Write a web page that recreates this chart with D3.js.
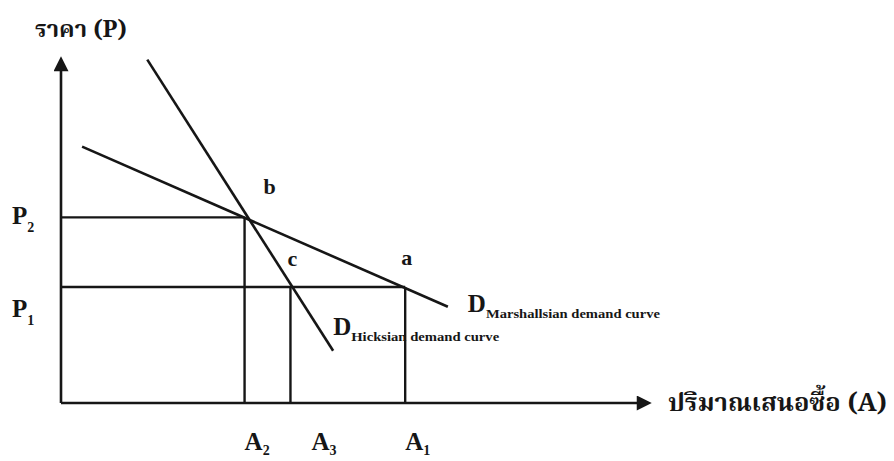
<!DOCTYPE html>
<html>
<head>
<meta charset="utf-8">
<script src="https://cdn.jsdelivr.net/npm/d3@7"></script>
<style>
  body { margin: 0; background: #fff; }
  svg { display: block; }
  .lbl { font-family: "Liberation Serif", "Times New Roman", serif; font-weight: bold; fill: #161616; }
  .th { font-family: "Noto Serif Thai", "Noto Sans Thai", "Loma", "Garuda", serif; font-weight: bold; fill: #161616; }
</style>
</head>
<body>
<div id="chart"></div>
<script>
// quantities on the x axis (A), with their subscripts
var qNames = ["2", "3", "1"];
var qValues = [4, 5, 7.5];
// prices on the y axis (P)
var pNames = ["2", "1"];
var pValues = [8, 5];
// demand curves, end points
var marshall = [[0.46, 11.05], [8.43, 4.15]];
var hicks = [[1.88, 14.8], [5.93, 2.25]];
// labelled points
var pointNames = ["b", "c", "a"];
var pointValues = [[4, 8], [5, 5], [7.5, 5]];

var width = 894, height = 461;

var x = d3.scaleLinear().domain([0, 12.9]).range([61, 653]);
var y = d3.scaleLinear().domain([0, 15]).range([403, 55]);

var svg = d3.select("#chart").append("svg")
    .attr("width", width)
    .attr("height", height);

// arrow head for the axes
svg.append("defs").append("marker")
    .attr("id", "arrow")
    .attr("viewBox", "0 0 10 10")
    .attr("refX", 5.5)
    .attr("refY", 5)
    .attr("markerUnits", "userSpaceOnUse")
    .attr("markerWidth", 18)
    .attr("markerHeight", 15)
    .attr("orient", "auto")
    .append("path")
    .attr("d", "M0,0 L10,5 L0,10 z")
    .attr("fill", "#161616");

var ink = "#161616";

// guide lines from the axes to the points
var guides = svg.append("g")
    .attr("stroke", ink)
    .attr("stroke-width", 2.4);

// P2 -> b, P1 -> a
guides.selectAll(".h").data(pValues).enter().append("line")
    .attr("x1", x(0))
    .attr("x2", function(d, i) { return x(i == 0 ? qValues[0] : qValues[2]); })
    .attr("y1", function(d) { return y(d); })
    .attr("y2", function(d) { return y(d); });

// vertical drops at A2, A3, A1
guides.selectAll(".v").data(qValues).enter().append("line")
    .attr("x1", function(d) { return x(d); })
    .attr("x2", function(d) { return x(d); })
    .attr("y1", function(d, i) { return y(i == 0 ? pValues[0] : pValues[1]); })
    .attr("y2", y(0));

// demand curves
var line = d3.line()
    .x(function(d) { return x(d[0]); })
    .y(function(d) { return y(d[1]); });

svg.selectAll(".curve").data([marshall, hicks]).enter().append("path")
    .attr("class", "curve")
    .attr("d", line)
    .attr("fill", "none")
    .attr("stroke", ink)
    .attr("stroke-width", 2.6);

// axes
svg.append("line")
    .attr("x1", x(0)).attr("y1", y(0))
    .attr("x2", x(0)).attr("y2", y(15) + 8)
    .attr("stroke", ink).attr("stroke-width", 2.6)
    .attr("marker-end", "url(#arrow)");

svg.append("line")
    .attr("x1", x(0)).attr("y1", y(0))
    .attr("x2", x(12.9) - 8).attr("y2", y(0))
    .attr("stroke", ink).attr("stroke-width", 2.6)
    .attr("marker-end", "url(#arrow)");

// axis titles
svg.append("text")
    .attr("class", "th")
    .attr("x", 35)
    .attr("y", 37)
    .attr("font-size", "23px")
    .attr("textLength", 92)
    .attr("lengthAdjust", "spacingAndGlyphs")
    .text("ราคา (P)");

svg.append("text")
    .attr("class", "th")
    .attr("x", x(12.9) + 15)
    .attr("y", y(0) + 8)
    .attr("font-size", "25px")
    .attr("textLength", 219)
    .attr("lengthAdjust", "spacingAndGlyphs")
    .text("ปริมาณเสนอซื้อ (A)");

// price labels P2, P1
var pl = svg.selectAll(".plabel").data(pValues).enter().append("text")
    .attr("class", "lbl")
    .attr("x", 12)
    .attr("y", function(d) { return y(d) + 7 + (d == 5 ? 23 : 0); })
    .attr("font-size", "25px");
pl.append("tspan").text("P");
pl.append("tspan")
    .attr("font-size", "14px")
    .attr("dy", 8)
    .text(function(d, i) { return pNames[i]; });

// quantity labels A2, A3, A1
var qOffset = [0, 21, 0];
var ql = svg.selectAll(".qlabel").data(qValues).enter().append("text")
    .attr("class", "lbl")
    .attr("x", function(d, i) { return x(d) + qOffset[i]; })
    .attr("y", 450)
    .attr("font-size", "25px");
ql.append("tspan").text("A");
ql.append("tspan")
    .attr("font-size", "14px")
    .attr("dy", 5)
    .text(function(d, i) { return qNames[i]; });

// point labels b, c, a
var ptOffset = [[19, -23], [-3, -21], [-4, -22]];
svg.selectAll(".pt").data(pointValues).enter().append("text")
    .attr("class", "lbl")
    .attr("x", function(d, i) { return x(d[0]) + ptOffset[i][0]; })
    .attr("y", function(d, i) { return y(d[1]) + ptOffset[i][1]; })
    .attr("font-size", "22px")
    .text(function(d, i) { return pointNames[i]; });

// curve names
var mEnd = marshall[1], hEnd = hicks[1];
var ml = svg.append("text")
    .attr("class", "lbl")
    .attr("x", x(mEnd[0]) + 20)
    .attr("y", y(mEnd[1]) + 5)
    .attr("font-size", "25px");
ml.append("tspan").text("D");
ml.append("tspan")
    .attr("font-size", "13px")
    .attr("dy", 6)
    .attr("textLength", 174)
    .attr("lengthAdjust", "spacingAndGlyphs")
    .text("Marshallsian demand curve");

var hl = svg.append("text")
    .attr("class", "lbl")
    .attr("x", x(hEnd[0]) + 0)
    .attr("y", y(hEnd[1]) - 16)
    .attr("font-size", "25px");
hl.append("tspan").text("D");
hl.append("tspan")
    .attr("font-size", "13px")
    .attr("dy", 6)
    .attr("textLength", 148)
    .attr("lengthAdjust", "spacingAndGlyphs")
    .text("Hicksian demand curve");
</script>
</body>
</html>
